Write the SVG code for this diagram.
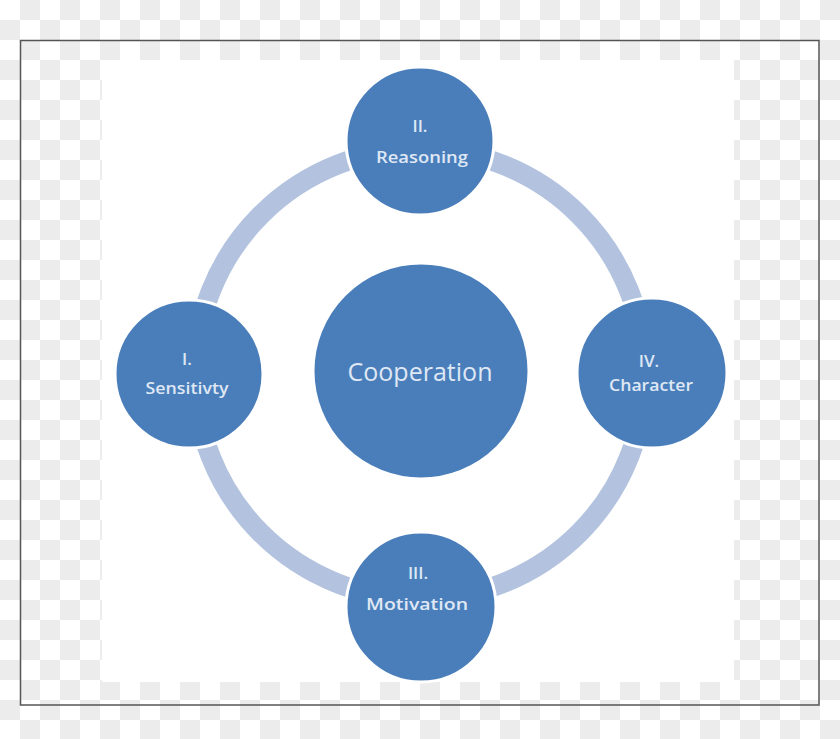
<svg xmlns="http://www.w3.org/2000/svg" width="840" height="739" viewBox="0 0 840 739">
<defs>
<pattern id="chk" width="40" height="40" patternUnits="userSpaceOnUse">
<rect width="40" height="40" fill="#ffffff"/>
<rect x="20" y="0" width="20" height="20" fill="#ececec"/>
<rect x="0" y="20" width="20" height="20" fill="#ececec"/>
</pattern>
<style>
.node{fill:#4a7ebb;stroke:#ffffff;stroke-width:3}
.lbl{font-family:"Open Sans","Noto Sans","DejaVu Sans",sans-serif;fill:#dfe8f4;text-anchor:middle;font-size:17px;font-weight:600}
.big{font-size:25px;font-weight:500}
</style>
</defs>
<rect width="840" height="739" fill="url(#chk)"/>
<rect x="20.5" y="40.5" width="798.5" height="664.5" fill="none" stroke="#555555" stroke-width="1.5"/>
<rect x="102" y="60" width="632" height="622" fill="#ffffff"/>
<g id="connectors">
<circle cx="420" cy="374" r="225" fill="none" stroke="#b3c3df" stroke-width="20"/>
</g>
<g id="center">
<circle class="node" cx="421" cy="371" r="108"/>
<text class="lbl big" x="420" y="381" textLength="145" lengthAdjust="spacingAndGlyphs">Cooperation</text>
</g>
<g id="reasoning">
<circle class="node" cx="420" cy="141" r="74"/>
<text class="lbl" x="420" y="132">II.</text>
<text class="lbl" x="422" y="163" textLength="92" lengthAdjust="spacingAndGlyphs">Reasoning</text>
</g>
<g id="sensitivity">
<circle class="node" cx="189" cy="374" r="74"/>
<text class="lbl" x="187" y="365">I.</text>
<text class="lbl" x="187" y="394" textLength="83" lengthAdjust="spacingAndGlyphs">Sensitivty</text>
</g>
<g id="character">
<circle class="node" cx="652" cy="373" r="75"/>
<text class="lbl" x="649" y="367">IV.</text>
<text class="lbl" x="651" y="391" textLength="84" lengthAdjust="spacingAndGlyphs">Character</text>
</g>
<g id="motivation">
<circle class="node" cx="421" cy="607" r="75"/>
<text class="lbl" x="418" y="579">III.</text>
<text class="lbl" x="417" y="610" textLength="102" lengthAdjust="spacingAndGlyphs">Motivation</text>
</g>
</svg>
